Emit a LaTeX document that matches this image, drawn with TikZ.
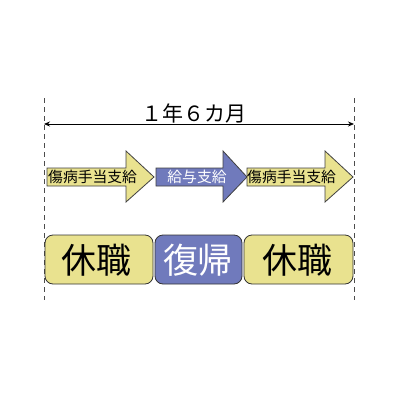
\documentclass[tikz,border=0pt]{standalone}
\usepackage{fontspec}
\newfontfamily\jp{Noto Sans CJK JP}
\usetikzlibrary{arrows.meta}
\definecolor{yel}{RGB}{233,226,143}
\definecolor{blu}{RGB}{112,122,188}
\tikzset{
  guide/.style={draw=black!70, line width=0.8pt, dash pattern=on 5pt off 4pt},
  arrowbody/.style={draw=black!75, line width=0.8pt, line join=miter},
  phase/.style={draw=black!80, line width=0.8pt, rounded corners=8pt},
  arrowtxt/.style={font=\jp\fontsize{14.8}{15}\selectfont, inner sep=0pt},
  bigtxt/.style={font=\jp\fontsize{35}{35}\selectfont, inner sep=0pt},
}
\begin{document}
\begin{tikzpicture}[x=1pt,y=-1pt]
\useasboundingbox (0,0) rectangle (400,400);
% guides
\coordinate (g1t) at (44,98); \coordinate (g1b) at (44,300);
\coordinate (g2t) at (354,98); \coordinate (g2b) at (354,300);
\draw[guide] (g1t) -- (g1b);
\draw[guide] (g2t) -- (g2b);
% span arrow
\coordinate (sa) at (44,124); \coordinate (sb) at (354,124);
\draw[line width=0.8pt, {Stealth[length=6pt,width=5pt]}-{Stealth[length=6pt,width=5pt]}] (sa) -- (sb);
\node[font=\jp\fontsize{21}{21}\selectfont, inner sep=0pt] (span) at (194,113) {１年６カ月};
% block arrows
\draw[arrowbody, fill=yel] (47,168) -- (126,168) -- (126,151) -- (154,177) -- (126,202) -- (126,186) -- (47,186) -- cycle;
\draw[arrowbody, fill=blu] (156,168) -- (223,168) -- (223,151) -- (247,177) -- (223,202) -- (223,186) -- (156,186) -- cycle;
\draw[arrowbody, fill=yel] (247,168) -- (325,168) -- (325,151) -- (353,177) -- (325,202) -- (325,186) -- (247,186) -- cycle;
\node[arrowtxt, anchor=west] (a1) at (48,177) {傷病手当支給};
\node[arrowtxt, text=white] (a2) at (197,177) {給与支給};
\node[arrowtxt, anchor=west] (a3) at (247,177) {傷病手当支給};
% phases
\draw[phase, fill=yel] (45,235) rectangle (153,284);
\draw[phase, fill=blu] (155,235) rectangle (242,284);
\draw[phase, fill=yel] (244,235) rectangle (353,284);
\node[bigtxt] (p1) at (97,260) {休職};
\node[bigtxt, text=white] (p2) at (198,260) {復帰};
\node[bigtxt] (p3) at (297,260) {休職};
\end{tikzpicture}
\end{document}
